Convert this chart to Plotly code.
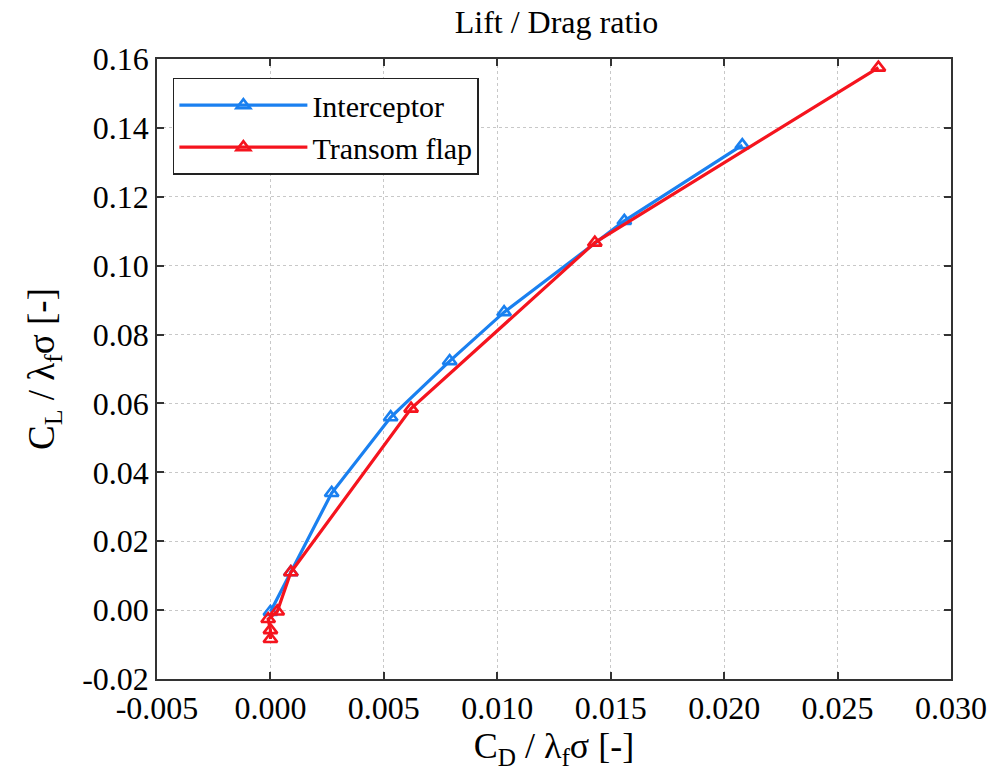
import plotly.graph_objects as go

# Data
interceptor_x = [0.0000, 0.0009, 0.0027, 0.0053, 0.0079, 0.0103, 0.0156, 0.0208]
interceptor_y = [-0.0005, 0.0110, 0.0340, 0.0560, 0.0723, 0.0865, 0.1130, 0.1350]

transom_x = [0.0000, 0.0000, -0.0001, 0.0003, 0.0009, 0.0062, 0.0143, 0.0268]
transom_y = [-0.0084, -0.0058, -0.0026, -0.0004, 0.0110, 0.0585, 0.1067, 0.1575]

x_ticks = [-0.005, 0.000, 0.005, 0.010, 0.015, 0.020, 0.025, 0.030]
y_ticks = [-0.02, 0.00, 0.02, 0.04, 0.06, 0.08, 0.10, 0.12, 0.14, 0.16]

FONT = "Liberation Serif"
BLUE = "#1a80f0"
RED = "#f5141e"

fig = go.Figure()
fig.add_trace(go.Scatter(
    x=interceptor_x, y=interceptor_y, mode="lines+markers", name="Interceptor",
    line=dict(color=BLUE, width=3.2),
    marker=dict(symbol="triangle-up-open", size=12, color=BLUE, line=dict(width=2.6, color=BLUE)),
))
fig.add_trace(go.Scatter(
    x=transom_x, y=transom_y, mode="lines+markers", name="Transom flap",
    line=dict(color=RED, width=3.2),
    marker=dict(symbol="triangle-up-open", size=12, color=RED, line=dict(width=2.6, color=RED)),
))

axis_common = dict(
    showline=True, linecolor="#333333", linewidth=1.5, mirror="ticks",
    ticks="inside", ticklen=7, tickwidth=1.5, tickcolor="#333333",
    showgrid=True, gridcolor="#c8c8c8", griddash="dot", gridwidth=1,
    zeroline=False, tickfont=dict(family=FONT, size=32, color="black"),
)

fig.update_xaxes(
    range=[-0.005, 0.030], tickvals=x_ticks,
    ticktext=[f"{v:.3f}" for v in x_ticks],
    title=dict(text="C<sub>D</sub> / λ<sub>f</sub>σ [-]", font=dict(family=FONT, size=36, color="black"), standoff=2),
    **axis_common,
)
fig.update_yaxes(
    range=[-0.02, 0.16], tickvals=y_ticks,
    ticktext=[f"{v:.2f}" for v in y_ticks],
    title=dict(text="C<sub>L</sub> / λ<sub>f</sub>σ [-]", font=dict(family=FONT, size=37, color="black"), standoff=16),
    **axis_common,
)

fig.update_layout(
    width=999, height=779,
    margin=dict(l=157, r=42, t=59, b=100),
    paper_bgcolor="white", plot_bgcolor="white",
    title=dict(text="Lift / Drag ratio", x=0.557, xanchor="center", y=0.972, yanchor="middle",
               font=dict(family=FONT, size=32, color="black")),
    legend=dict(x=0.02, y=0.97, xanchor="left", yanchor="top",
                bgcolor="white", bordercolor="#222222", borderwidth=1.5,
                font=dict(family=FONT, size=30, color="black"),
                itemwidth=128, tracegroupgap=0),
    showlegend=True,
)

fig.write_html("out.html")
